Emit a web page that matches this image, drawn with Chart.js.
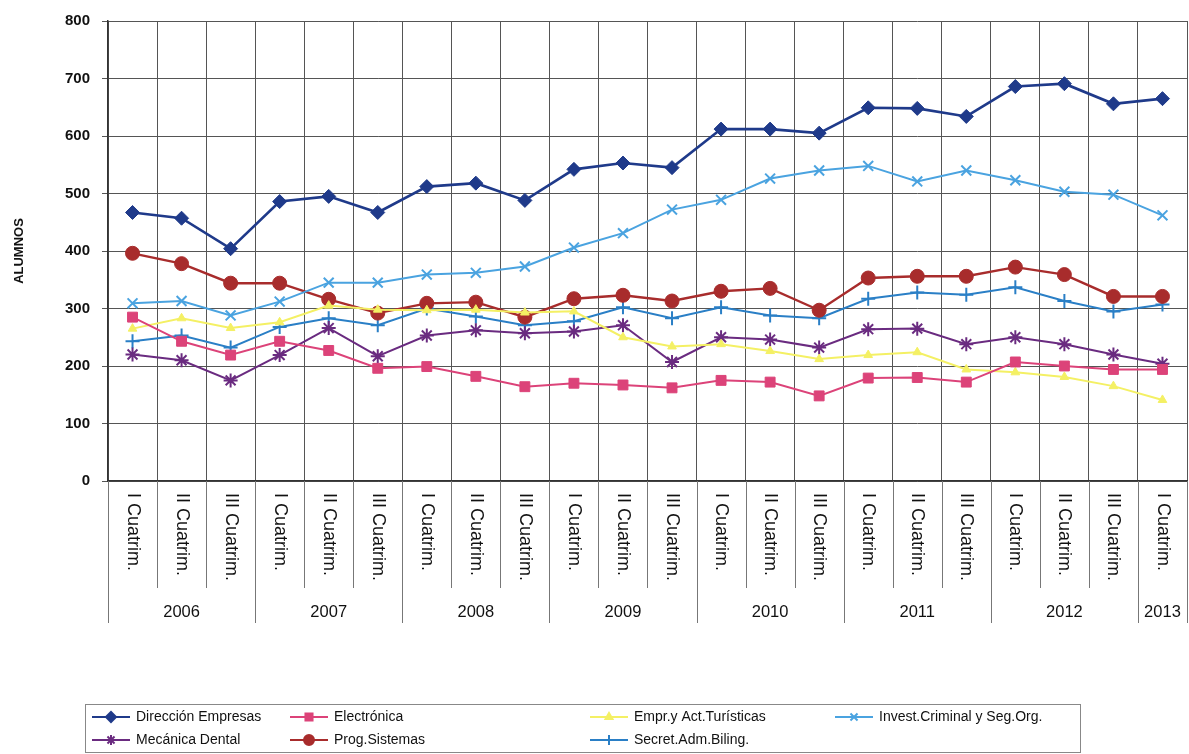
<!DOCTYPE html>
<html><head><meta charset="utf-8">
<script src="https://cdn.jsdelivr.net/npm/chart.js@4.4.1/dist/chart.umd.min.js"></script>
<style>
html,body{margin:0;padding:0;background:#fff;}
#c{display:block;}
</style></head><body>
<canvas id="c" width="1189" height="754" style="width:1189px;height:754px"></canvas>
<script>
const categories = ['I Cuatrim.','II Cuatrim.','III Cuatrim.','I Cuatrim.','II Cuatrim.','III Cuatrim.','I Cuatrim.','II Cuatrim.','III Cuatrim.','I Cuatrim.','II Cuatrim.','III Cuatrim.','I Cuatrim.','II Cuatrim.','III Cuatrim.','I Cuatrim.','II Cuatrim.','III Cuatrim.','I Cuatrim.','II Cuatrim.','III Cuatrim.','I Cuatrim.'];
const years = ['2006','2007','2008','2009','2010','2011','2012','2013'];
const yearCounts = [3,3,3,3,3,3,3,1];
const yTicks = [0,100,200,300,400,500,600,700,800];

const direccion   = [467,457,404,486,495,467,512,518,488,542,553,545,612,612,605,649,648,634,686,691,656,665];
const electronica = [285,243,219,243,227,196,199,182,164,170,167,162,175,172,148,179,180,172,207,200,194,194];
const turisticas  = [265,283,266,276,305,298,297,298,293,295,250,234,238,226,212,219,224,194,189,181,165,141];
const invest      = [309,313,288,312,345,345,359,362,373,406,431,472,489,526,540,548,521,540,523,503,498,462];
const mecanica    = [220,210,175,219,266,217,253,262,257,260,271,207,250,246,232,264,265,238,250,238,220,204];
const prog        = [396,378,344,344,316,292,309,311,285,317,323,313,330,335,297,353,356,356,372,359,321,321];
const secret      = [243,253,232,268,283,271,300,286,271,278,302,283,302,288,283,317,328,324,337,313,295,307];

const FONT = "'Liberation Sans', Arial, sans-serif";
Chart.defaults.font.family = FONT;

function ds(label, data, color, style, radius, bw, lw) {
  return {label, data, borderColor: color, backgroundColor: color,
    pointStyle: style, pointRadius: radius, pointHoverRadius: radius,
    pointBorderColor: color, pointBackgroundColor: color, pointBorderWidth: bw,
    borderWidth: lw, tension: 0, fill: false, clip: false};
}

const datasets = [
  ds('Dirección Empresas', direccion, '#1f3a8a', 'rectRot', 7, 1, 2.6),
  ds('Electrónica', electronica, '#dc4379', 'rect', 7, 1, 2),
  ds('Empr.y Act.Turísticas', turisticas, '#f4f064', 'triangle', 5, 1, 2),
  ds('Invest.Criminal y Seg.Org.', invest, '#4aa3e0', 'crossRot', 7, 2, 2),
  ds('Mecánica Dental', mecanica, '#6a2b80', 'star', 7, 2, 2),
  ds('Prog.Sistemas', prog, '#a82c2c', 'circle', 7, 1, 2.4),
  ds('Secret.Adm.Biling.', secret, '#2a7fc6', 'cross', 7, 2, 2)
];

const legendPos = [[92,717],[290,717],[590,717],[835,717],[92,740],[290,740],[590,740]];

const customPlugin = {
  id: 'custom',
  afterDraw(chart) {
    const ctx = chart.ctx;
    const xs = chart.scales.x;
    const ca = chart.chartArea;
    const half = (xs.getPixelForValue(1) - xs.getPixelForValue(0)) / 2;
    ctx.save();
    ctx.fillStyle = '#111';
    ctx.font = '18px ' + FONT;
    ctx.textAlign = 'left';
    ctx.textBaseline = 'middle';
    categories.forEach((lab, i) => {
      const px = xs.getPixelForValue(i);
      ctx.save();
      ctx.translate(px, ca.bottom + 12);
      ctx.rotate(Math.PI / 2);
      ctx.fillText(lab, 0, 0);
      ctx.restore();
    });
    const yearB = [0];
    let acc = 0;
    yearCounts.forEach(c => { acc += c; yearB.push(acc); });
    ctx.strokeStyle = '#777';
    ctx.lineWidth = 1;
    for (let b = 0; b <= categories.length; b++) {
      const bx = Math.round(xs.getPixelForValue(0) - half + b * 2 * half) + 0.5;
      const isYear = yearB.includes(b);
      ctx.beginPath();
      ctx.moveTo(bx, ca.bottom);
      ctx.lineTo(bx, ca.bottom + (isYear ? 142 : 107));
      ctx.stroke();
    }
    ctx.font = '16.5px ' + FONT;
    ctx.textAlign = 'center';
    ctx.textBaseline = 'middle';
    let start = 0;
    years.forEach((y, i) => {
      const l = xs.getPixelForValue(start) - half;
      const r = xs.getPixelForValue(start + yearCounts[i] - 1) + half;
      ctx.fillText(y, (l + r) / 2, ca.bottom + 131);
      start += yearCounts[i];
    });
    ctx.strokeStyle = '#888';
    ctx.lineWidth = 1;
    ctx.strokeRect(85.5, 704.5, 995, 48);
    ctx.font = '14px ' + FONT;
    ctx.textAlign = 'left';
    ctx.textBaseline = 'middle';
    datasets.forEach((d, i) => {
      const [lx, ly] = legendPos[i];
      ctx.strokeStyle = d.borderColor;
      ctx.lineWidth = 2;
      ctx.beginPath();
      ctx.moveTo(lx, ly);
      ctx.lineTo(lx + 38, ly);
      ctx.stroke();
      ctx.fillStyle = d.pointBackgroundColor;
      ctx.strokeStyle = d.pointBorderColor;
      Chart.helpers.drawPoint(ctx, {pointStyle: d.pointStyle, radius: Math.max(4, d.pointRadius - 2), borderWidth: d.pointBorderWidth, rotation: 0}, lx + 19, ly);
      ctx.fillStyle = '#111';
      ctx.fillText(d.label, lx + 44, ly);
    });
    ctx.restore();
  }
};

new Chart(document.getElementById('c'), {
  type: 'line',
  data: {labels: categories, datasets},
  options: {
    responsive: false,
    animation: false,
    events: [],
    layout: {autoPadding: false, padding: {left: 12, right: 2, top: 20, bottom: 0}},
    plugins: {legend: {display: false}, tooltip: {enabled: false}},
    scales: {
      x: {
        type: 'category',
        offset: true,
        grid: {offset: true, color: '#555', lineWidth: 1, drawTicks: false},
        border: {color: '#333', width: 1.5},
        ticks: {display: false},
        afterFit(scale) { scale.height = 754 - 481; scale.paddingLeft = 0; scale.paddingRight = 0; }
      },
      y: {
        min: 0, max: 800,
        afterBuildTicks(scale) { scale.ticks = yTicks.map(v => ({value: v})); },
        grid: {color: '#555', lineWidth: 1, tickLength: 6},
        border: {color: '#333', width: 1.5},
        ticks: {color: '#111', font: {size: 15, weight: 'bold'}, padding: 12},
        title: {display: true, text: 'ALUMNOS', color: '#111', font: {size: 13, weight: 'bold'}, padding: {top: 0, bottom: 4}},
        afterFit(scale) { scale.width = 96; scale.paddingLeft = 0; scale.paddingRight = 0; }
      }
    }
  },
  plugins: [customPlugin]
});
</script>
</body></html>
